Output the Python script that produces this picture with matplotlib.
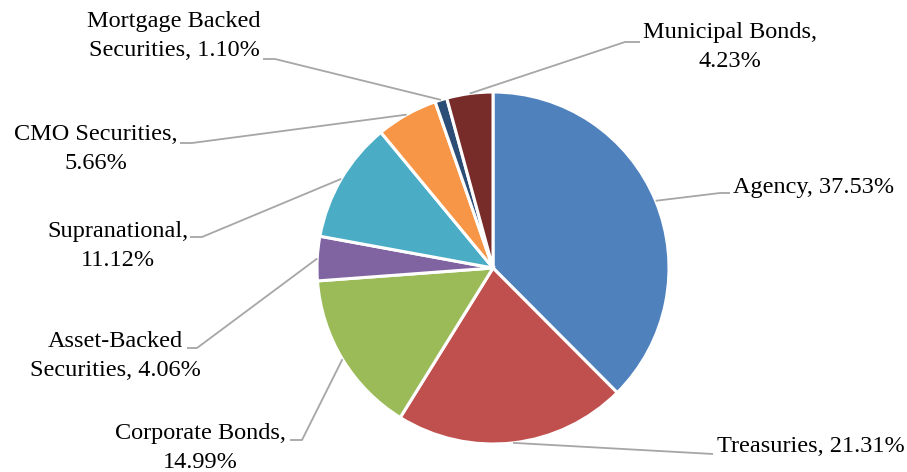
import numpy as np
import matplotlib.pyplot as plt

plt.rcParams["font.family"] = ["Liberation Serif", "DejaVu Serif"]

# slices in drawing order, clockwise from 12 o'clock
labels = [
    "Agency",
    "Treasuries",
    "Corporate Bonds",
    "Asset-Backed\nSecurities",
    "Supranational",
    "CMO Securities",
    "Mortgage Backed\nSecurities",
    "Municipal Bonds",
]
shares = [37.53, 21.31, 14.99, 4.06, 11.12, 5.66, 1.10, 4.23]
colors = ["#4F81BD", "#C0504D", "#9BBB59", "#8064A2",
          "#4BACC6", "#F79646", "#2C4D75", "#772C2A"]

# label text as shown on the chart (line breaks as in the original)
label_text = [
    "Agency, 37.53%",
    "Treasuries, 21.31%",
    "Corporate Bonds,\n14.99%",
    "Asset-Backed\nSecurities, 4.06%",
    "Supranational,\n11.12%",
    "CMO Securities,\n5.66%",
    "Mortgage Backed\nSecurities, 1.10%",
    "Municipal Bonds,\n4.23%",
]

# layout in pixel units (y down): text anchor, leader elbow, leader end
text_pos = [(733, 187), (717, 446), (200, 448), (115, 356),
            (118, 246), (96, 149), (174, 36), (730, 47)]
text_ha = ["left", "left", "center", "center",
           "center", "center", "center", "center"]
elbow = [(720, 193), (713, 454), (302, 440), (197, 348),
         (202, 237), (192, 143), (275, 59), (625, 42)]
lead_end = [(730, 193), (713, 454), (290, 440), (187, 348),
            (190, 237), (180, 143), (263, 59), (640, 42)]

cx, cy, R = 493, 268, 176

fig = plt.figure(figsize=(9.07, 4.72), dpi=100)
ax = fig.add_axes([0, 0, 1, 1])

ax.pie(shares, colors=colors, startangle=-90, counterclock=True,
       center=(cx, cy), radius=R,
       wedgeprops=dict(edgecolor="white", linewidth=2.2))

ax.set_xlim(0, 907)
ax.set_ylim(472, 0)
ax.set_aspect("equal")
ax.axis("off")

total = sum(shares)
cum = 0.0
for i, s in enumerate(shares):
    mid = -90 + (cum + s / 2) / total * 360
    cum += s
    x0 = cx + R * np.cos(np.radians(mid))
    y0 = cy + R * np.sin(np.radians(mid))
    ex, ey = elbow[i]
    lx, ly = lead_end[i]
    ax.plot([x0, ex, lx], [y0, ey, ly], color="#A6A6A6", lw=1.3,
            solid_capstyle="butt", zorder=1)
    tx, ty = text_pos[i]
    ax.text(tx, ty, label_text[i], ha=text_ha[i], va="center",
            multialignment="center", fontsize=17.5, color="black",
            linespacing=1.45)

fig.savefig("out.png", dpi=100, facecolor="white")
